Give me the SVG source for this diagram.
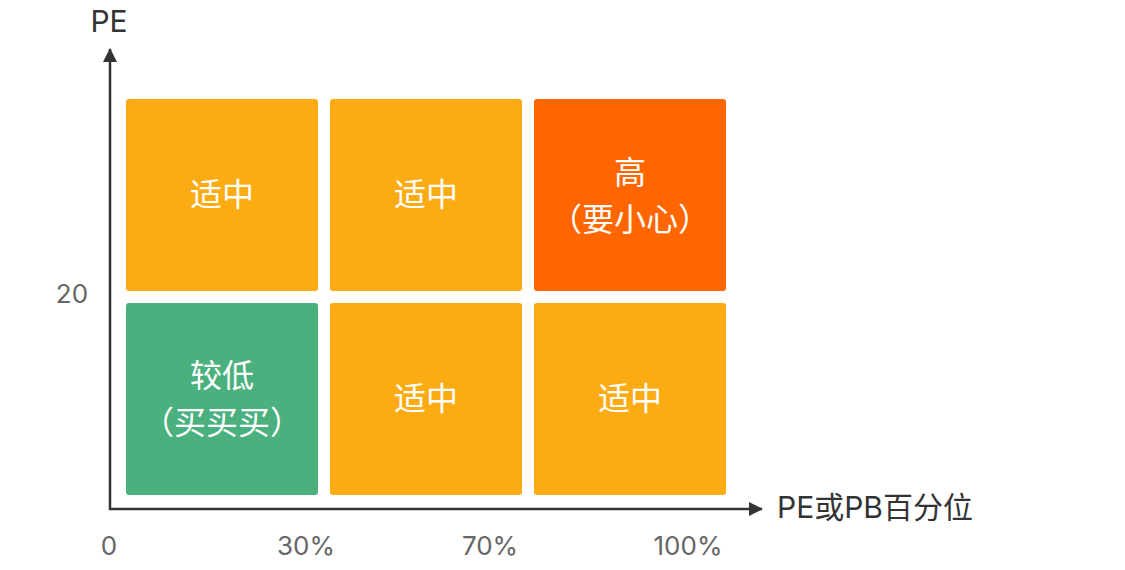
<svg xmlns="http://www.w3.org/2000/svg" width="1125" height="570" viewBox="0 0 1125 570">
<defs>
<style>
.box{stroke:none}
.mid{fill:#FDAB13}
.low{fill:#4AB17E}
.high{fill:#FF6600}
.bt{fill:#ffffff;font-family:"Noto Sans CJK SC","Noto Sans",sans-serif;font-size:32px;text-anchor:middle}
.ax{stroke:#333333;stroke-width:2.5;fill:none}
.lbl{fill:#333333;font-family:"Inter","Noto Sans CJK SC",sans-serif;font-size:30px}
.tick{fill:#666666;font-family:"Inter","Noto Sans",sans-serif;font-size:26px;text-anchor:middle}
</style>
<marker id="arr" viewBox="0 0 14 14" refX="13" refY="7" markerWidth="14" markerHeight="14" markerUnits="userSpaceOnUse" orient="auto">
<path d="M0,0 L14,7 L0,14 Z" fill="#333333"/>
</marker>
</defs>
<rect width="1125" height="570" fill="#ffffff"/>
<g id="connectors">
<line class="ax" x1="110" y1="510" x2="110" y2="49" marker-end="url(#arr)"/>
<line class="ax" x1="109" y1="509" x2="762" y2="509" marker-end="url(#arr)"/>
</g>
<g id="axis-labels">
<text class="lbl" x="109" y="32" text-anchor="middle">PE</text>
<text class="lbl" x="777" y="518">PE或PB百分位</text>
<text class="tick" x="72" y="303">20</text>
<text class="tick" x="109" y="555">0</text>
<text class="tick" x="306" y="555">30%</text>
<text class="tick" x="490" y="555">70%</text>
<text class="tick" x="688" y="555">100%</text>
</g>
<g id="node-r1c1"><rect class="box mid" x="126" y="99" width="192" height="192" rx="3"/><text class="bt" x="222" y="206">适中</text></g>
<g id="node-r1c2"><rect class="box mid" x="330" y="99" width="192" height="192" rx="3"/><text class="bt" x="426" y="206">适中</text></g>
<g id="node-r1c3"><rect class="box high" x="534" y="99" width="192" height="192" rx="3"/><text class="bt" x="630" y="184">高</text><text class="bt" x="630" y="231">（要小心）</text></g>
<g id="node-r2c1"><rect class="box low" x="126" y="303" width="192" height="192" rx="3"/><text class="bt" x="222" y="387">较低</text><text class="bt" x="222" y="434">（买买买）</text></g>
<g id="node-r2c2"><rect class="box mid" x="330" y="303" width="192" height="192" rx="3"/><text class="bt" x="426" y="410">适中</text></g>
<g id="node-r2c3"><rect class="box mid" x="534" y="303" width="192" height="192" rx="3"/><text class="bt" x="630" y="410">适中</text></g>
</svg>
